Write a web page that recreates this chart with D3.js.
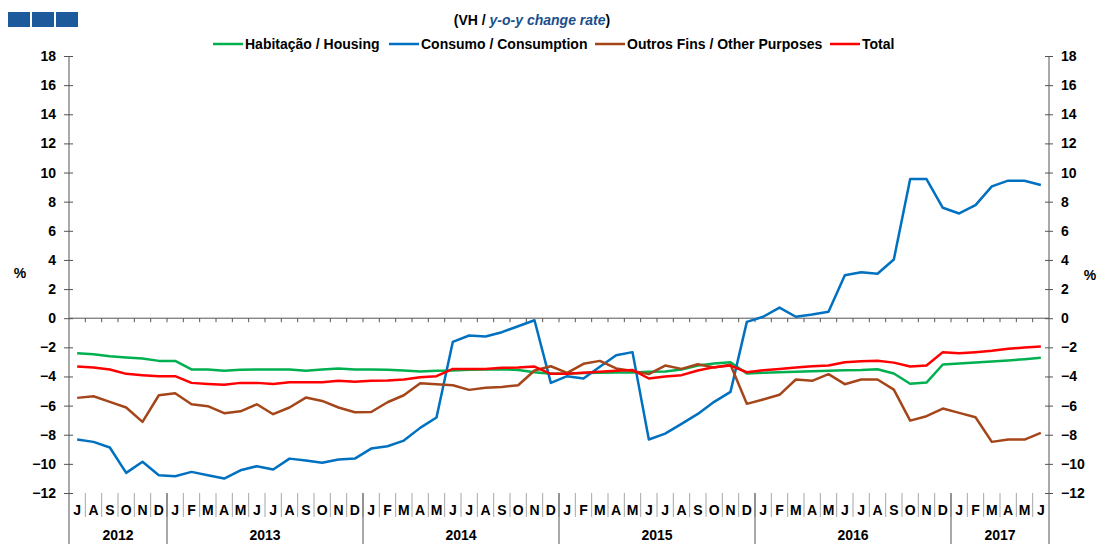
<!DOCTYPE html>
<html><head><meta charset="utf-8">
<script src="https://cdn.jsdelivr.net/npm/d3@7"></script>
<style>
body{margin:0;background:#fff;}
svg text{font-family:"Liberation Sans",Arial,sans-serif;font-weight:bold;}
</style></head>
<body><svg id="c" width="1102" height="544"></svg>
<script>
const monthLabels = ["J","A","S","O","N","D",
 "J","F","M","A","M","J","J","A","S","O","N","D",
 "J","F","M","A","M","J","J","A","S","O","N","D",
 "J","F","M","A","M","J","J","A","S","O","N","D",
 "J","F","M","A","M","J","J","A","S","O","N","D",
 "J","F","M","A","M","J"];
const yearLabels = ["2012","2013","2014","2015","2016","2017"];
const yearMonthCounts = [6,12,12,12,12,6];
const yTicks = [-12,-10,-8,-6,-4,-2,0,2,4,6,8,10,12,14,16,18];

const housing = [-2.40,-2.47,-2.61,-2.70,-2.77,-2.93,-2.93,-3.52,-3.52,-3.61,-3.54,-3.52,
 -3.52,-3.52,-3.61,-3.52,-3.45,-3.52,-3.52,-3.54,-3.59,-3.66,-3.61,-3.59,
 -3.54,-3.52,-3.50,-3.56,-3.71,-3.82,-3.80,-3.77,-3.75,-3.73,-3.72,-3.68,
 -3.66,-3.52,-3.25,-3.11,-3.02,-3.80,-3.75,-3.71,-3.68,-3.64,-3.61,-3.57,
 -3.55,-3.50,-3.80,-4.50,-4.42,-3.18,-3.11,-3.04,-2.97,-2.90,-2.81,-2.72];
const consumption = [-8.33,-8.49,-8.88,-10.62,-9.86,-10.78,-10.85,-10.55,-10.78,-11.01,-10.44,-10.16,
 -10.39,-9.64,-9.77,-9.93,-9.70,-9.64,-8.95,-8.79,-8.40,-7.53,-6.82,-1.62,
 -1.19,-1.26,-0.96,-0.55,-0.14,-4.44,-3.98,-4.14,-3.34,-2.54,-2.33,-8.33,
 -7.92,-7.25,-6.57,-5.74,-5.06,-0.25,0.10,0.73,0.10,0.25,0.44,2.95,
 3.15,3.05,4.03,9.55,9.55,7.58,7.19,7.76,9.05,9.44,9.44,9.14];
const otherPurposes = [-5.47,-5.36,-5.74,-6.13,-7.12,-5.29,-5.15,-5.91,-6.04,-6.52,-6.39,-5.91,
 -6.59,-6.13,-5.45,-5.68,-6.13,-6.46,-6.44,-5.77,-5.29,-4.46,-4.53,-4.60,
 -4.92,-4.78,-4.72,-4.60,-3.59,-3.30,-3.75,-3.13,-2.93,-3.45,-3.62,-3.84,
 -3.25,-3.48,-3.16,-3.39,-3.20,-5.88,-5.58,-5.26,-4.21,-4.30,-3.84,-4.53,
 -4.21,-4.21,-4.90,-7.03,-6.73,-6.20,-6.50,-6.80,-8.49,-8.33,-8.33,-7.87];
const total = [-3.32,-3.39,-3.52,-3.82,-3.91,-3.98,-3.98,-4.44,-4.51,-4.57,-4.44,-4.44,
 -4.51,-4.40,-4.40,-4.40,-4.30,-4.37,-4.30,-4.28,-4.21,-4.05,-3.98,-3.48,
 -3.48,-3.48,-3.41,-3.39,-3.32,-3.82,-3.82,-3.75,-3.68,-3.61,-3.55,-4.14,
 -4.00,-3.91,-3.59,-3.36,-3.25,-3.71,-3.57,-3.48,-3.39,-3.30,-3.25,-3.02,
 -2.95,-2.92,-3.05,-3.32,-3.25,-2.33,-2.40,-2.33,-2.24,-2.10,-2.01,-1.94];

const seriesNames = ["Habitação / Housing","Consumo / Consumption","Outros Fins / Other Purposes","Total"];
const seriesColors = ["#00b050","#0070c0","#a5461a","#ff0000"];
const seriesData = [housing, consumption, otherPurposes, total];

const svg = d3.select("#c");
const L = 69, R = 1049, T = 56, B = 493;
const axisColor = "#555";
const x = d3.scaleBand().domain(d3.range(monthLabels.length)).range([L, R]);
const y = d3.scaleLinear().domain([-12, 18]).range([B, T]);
const cx = i => x(i) + x.bandwidth() / 2;

// logo
[0,1,2].forEach(k => svg.append("rect").attr("x", 8 + k*24).attr("y", 12).attr("width", 22).attr("height", 15).attr("fill", "#1c5a9c"));

// title
const title = svg.append("text").attr("x", 532).attr("y", 25).attr("text-anchor", "middle").attr("font-size", 14);
title.append("tspan").attr("fill", "#000").text("(VH / ");
title.append("tspan").attr("fill", "#1a4f8b").attr("font-style", "italic").text("y-o-y change rate");
title.append("tspan").attr("fill", "#000").text(")");

// legend
const legX = [213, 389, 595, 830];
seriesNames.forEach((n, k) => {
  svg.append("line").attr("x1", legX[k]).attr("x2", legX[k] + 30).attr("y1", 44).attr("y2", 44)
    .attr("stroke", seriesColors[k]).attr("stroke-width", 2.5);
  svg.append("text").attr("x", legX[k] + 32).attr("y", 49).attr("font-size", 14).text(n);
});

// axes
const axL = svg.append("g").attr("transform", `translate(${L},0)`)
  .call(d3.axisLeft(y).tickValues(yTicks).tickSize(5).tickPadding(8).tickFormat(d3.format("d")));
const axR = svg.append("g").attr("transform", `translate(${R},0)`)
  .call(d3.axisRight(y).tickValues(yTicks).tickSize(4).tickPadding(8).tickFormat(d3.format("d")));
[axL, axR].forEach((g, k) => {
  g.select(".domain").remove();
  g.selectAll(".tick line").attr("stroke", axisColor).attr("x1", k === 0 ? 4 : -4);
  g.selectAll(".tick text").attr("font-size", 14).attr("fill", "#000")
    .attr("font-family", "'Liberation Sans',Arial,sans-serif").attr("font-weight", "bold");
});
svg.append("line").attr("x1", L).attr("x2", L).attr("y1", T).attr("y2", 544).attr("stroke", axisColor);
svg.append("line").attr("x1", R).attr("x2", R).attr("y1", T).attr("y2", 544).attr("stroke", axisColor);

svg.append("text").attr("x", 20).attr("y", 278).attr("font-size", 14).attr("text-anchor", "middle").text("%");
svg.append("text").attr("x", 1090).attr("y", 280).attr("font-size", 14).attr("text-anchor", "middle").text("%");

// zero line + ticks
svg.append("line").attr("x1", L).attr("x2", R).attr("y1", y(0)).attr("y2", y(0)).attr("stroke", axisColor);
d3.range(1, monthLabels.length).forEach(i => {
  svg.append("line").attr("x1", x(i)).attr("x2", x(i)).attr("y1", y(0)).attr("y2", y(0) + 4).attr("stroke", axisColor);
});

// month separators and labels
d3.range(1, monthLabels.length).forEach(i => {
  svg.append("line").attr("x1", x(i)).attr("x2", x(i)).attr("y1", B).attr("y2", 517).attr("stroke", "#a6a6a6");
});
monthLabels.forEach((m, i) => {
  svg.append("text").attr("x", cx(i)).attr("y", 515).attr("text-anchor", "middle").attr("font-size", 14).text(m);
});
let start = 0;
yearLabels.forEach((yl, k) => {
  const end = start + yearMonthCounts[k];
  if (start > 0) svg.append("line").attr("x1", x(start)).attr("x2", x(start)).attr("y1", B).attr("y2", 544).attr("stroke", axisColor);
  const mid = (x(start) + x(end - 1) + x.bandwidth()) / 2;
  svg.append("text").attr("x", mid).attr("y", 540).attr("text-anchor", "middle").attr("font-size", 14).text(yl);
  start = end;
});

// lines
const line = d3.line().x((d, i) => cx(i)).y(d => y(d));
seriesData.forEach((s, k) => {
  svg.append("path").datum(s).attr("d", line).attr("fill", "none")
    .attr("stroke", seriesColors[k]).attr("stroke-width", 2.5).attr("stroke-linejoin", "round");
});
</script></body></html>
